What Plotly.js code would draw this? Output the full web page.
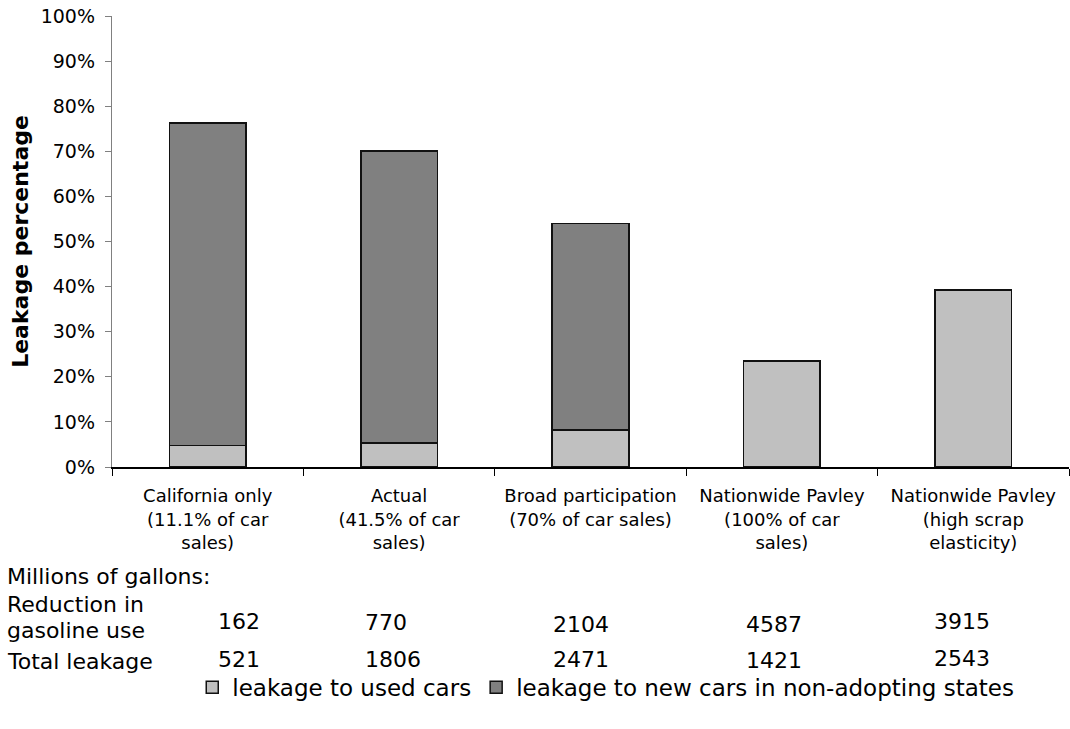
<!DOCTYPE html>
<html>
<head>
<meta charset="utf-8">
<script src="https://cdn.plot.ly/plotly-3.0.1.min.js"></script>
<style>
  html, body { margin: 0; padding: 0; background: #fff; }
  #chart { width: 1070px; height: 729px; }
</style>
</head>
<body>
<div id="chart"></div>
<script>
// ---- data ----
const categories = [
  "California only<br>(11.1% of car<br>sales)",
  "Actual<br>(41.5% of car<br>sales)",
  "Broad participation<br>(70% of car sales)",
  "Nationwide Pavley<br>(100% of car<br>sales)",
  "Nationwide Pavley<br>(high scrap<br>elasticity)"
];
const leakageUsedCars = [0.048, 0.053, 0.082, 0.235, 0.393];
const leakageNewCars = [0.715, 0.648, 0.458, null, null];
const reductionInGasoline = [162, 770, 2104, 4587, 3915];
const totalLeakage = [521, 1806, 2471, 1421, 2543];
const seriesNames = ["leakage to used cars", "leakage to new cars in non-adopting states"];

// ---- layout constants (pixels) ----
const W = 1070, H = 729;
const plotL = 111.7, plotR = 1069.3, plotT = 15.7, plotB = 467.3;
const pw = plotR - plotL, ph = plotB - plotT;
const px = x => (x - plotL) / pw;
const py = y => (plotB - y) / ph;
const FONT = "DejaVu Sans, Verdana, sans-serif";
const tableX = [216, 363, 551, 744, 932];
const row1Y = [622, 623, 625, 625, 622];
const row2Y = [660, 660, 660, 661, 659];

const traces = [
  {
    type: "bar", name: seriesNames[0], x: categories, y: leakageUsedCars,
    marker: { color: "#C0C0C0", line: { color: "#111", width: 1.5 } },
    hoverinfo: "skip"
  },
  {
    type: "bar", name: seriesNames[1], x: categories, y: leakageNewCars,
    marker: { color: "#808080", line: { color: "#111", width: 1.5 } },
    hoverinfo: "skip"
  }
];

const annotations = [];
function addText(text, x, y, size, anchor) {
  annotations.push({
    text: text, xref: "paper", yref: "paper", x: px(x), y: py(y),
    xanchor: anchor || "left", yanchor: "middle", showarrow: false,
    font: { family: FONT, size: size, color: "#000" }
  });
}
addText("Millions of gallons:", 5, 577, 22);
addText("Reduction in", 5, 605, 22);
addText("gasoline use", 5, 631, 22);
addText("Total leakage", 5, 662, 22);
reductionInGasoline.forEach((v, i) => addText(String(v), tableX[i], row1Y[i], 22));
totalLeakage.forEach((v, i) => addText(String(v), tableX[i], row2Y[i], 22));

const layout = {
  width: W, height: H,
  margin: { l: plotL, r: W - plotR, t: plotT, b: H - plotB, pad: 0 },
  paper_bgcolor: "#fff", plot_bgcolor: "#fff",
  barmode: "stack", bargap: 0.6,
  font: { family: FONT, size: 18, color: "#000" },
  showlegend: true,
  legend: {
    orientation: "h", x: px(192), xanchor: "left", y: py(688), yanchor: "middle",
    font: { family: FONT, size: 23, color: "#000" }, traceorder: "normal",
    itemwidth: 30, bgcolor: "rgba(0,0,0,0)"
  },
  xaxis: {
    type: "category", range: [-0.5, 4.5], tickson: "boundaries",
    ticks: "outside", ticklen: 7, tickcolor: "#000", tickwidth: 1,
    showline: true, linecolor: "#000", linewidth: 1.5,
    showgrid: false, zeroline: false, fixedrange: true,
    tickfont: { family: FONT, size: 18, color: "#000" },
    ticklabelstandoff: 12
  },
  yaxis: {
    range: [0, 1], dtick: 0.1, tick0: 0, tickformat: ".0%",
    ticks: "outside", ticklen: 6, tickcolor: "#808080", tickwidth: 1,
    showline: true, linecolor: "#808080", linewidth: 1.2,
    showgrid: false, zeroline: false, fixedrange: true,
    tickfont: { family: FONT, size: 19, color: "#000" },
    ticklabelstandoff: 6,
    title: { text: "<b>Leakage percentage</b>", standoff: 6,
             font: { family: FONT, size: 22, color: "#000" } }
  },
  annotations: annotations
};

Plotly.newPlot("chart", traces, layout, { displayModeBar: false, staticPlot: true });
</script>
</body>
</html>
